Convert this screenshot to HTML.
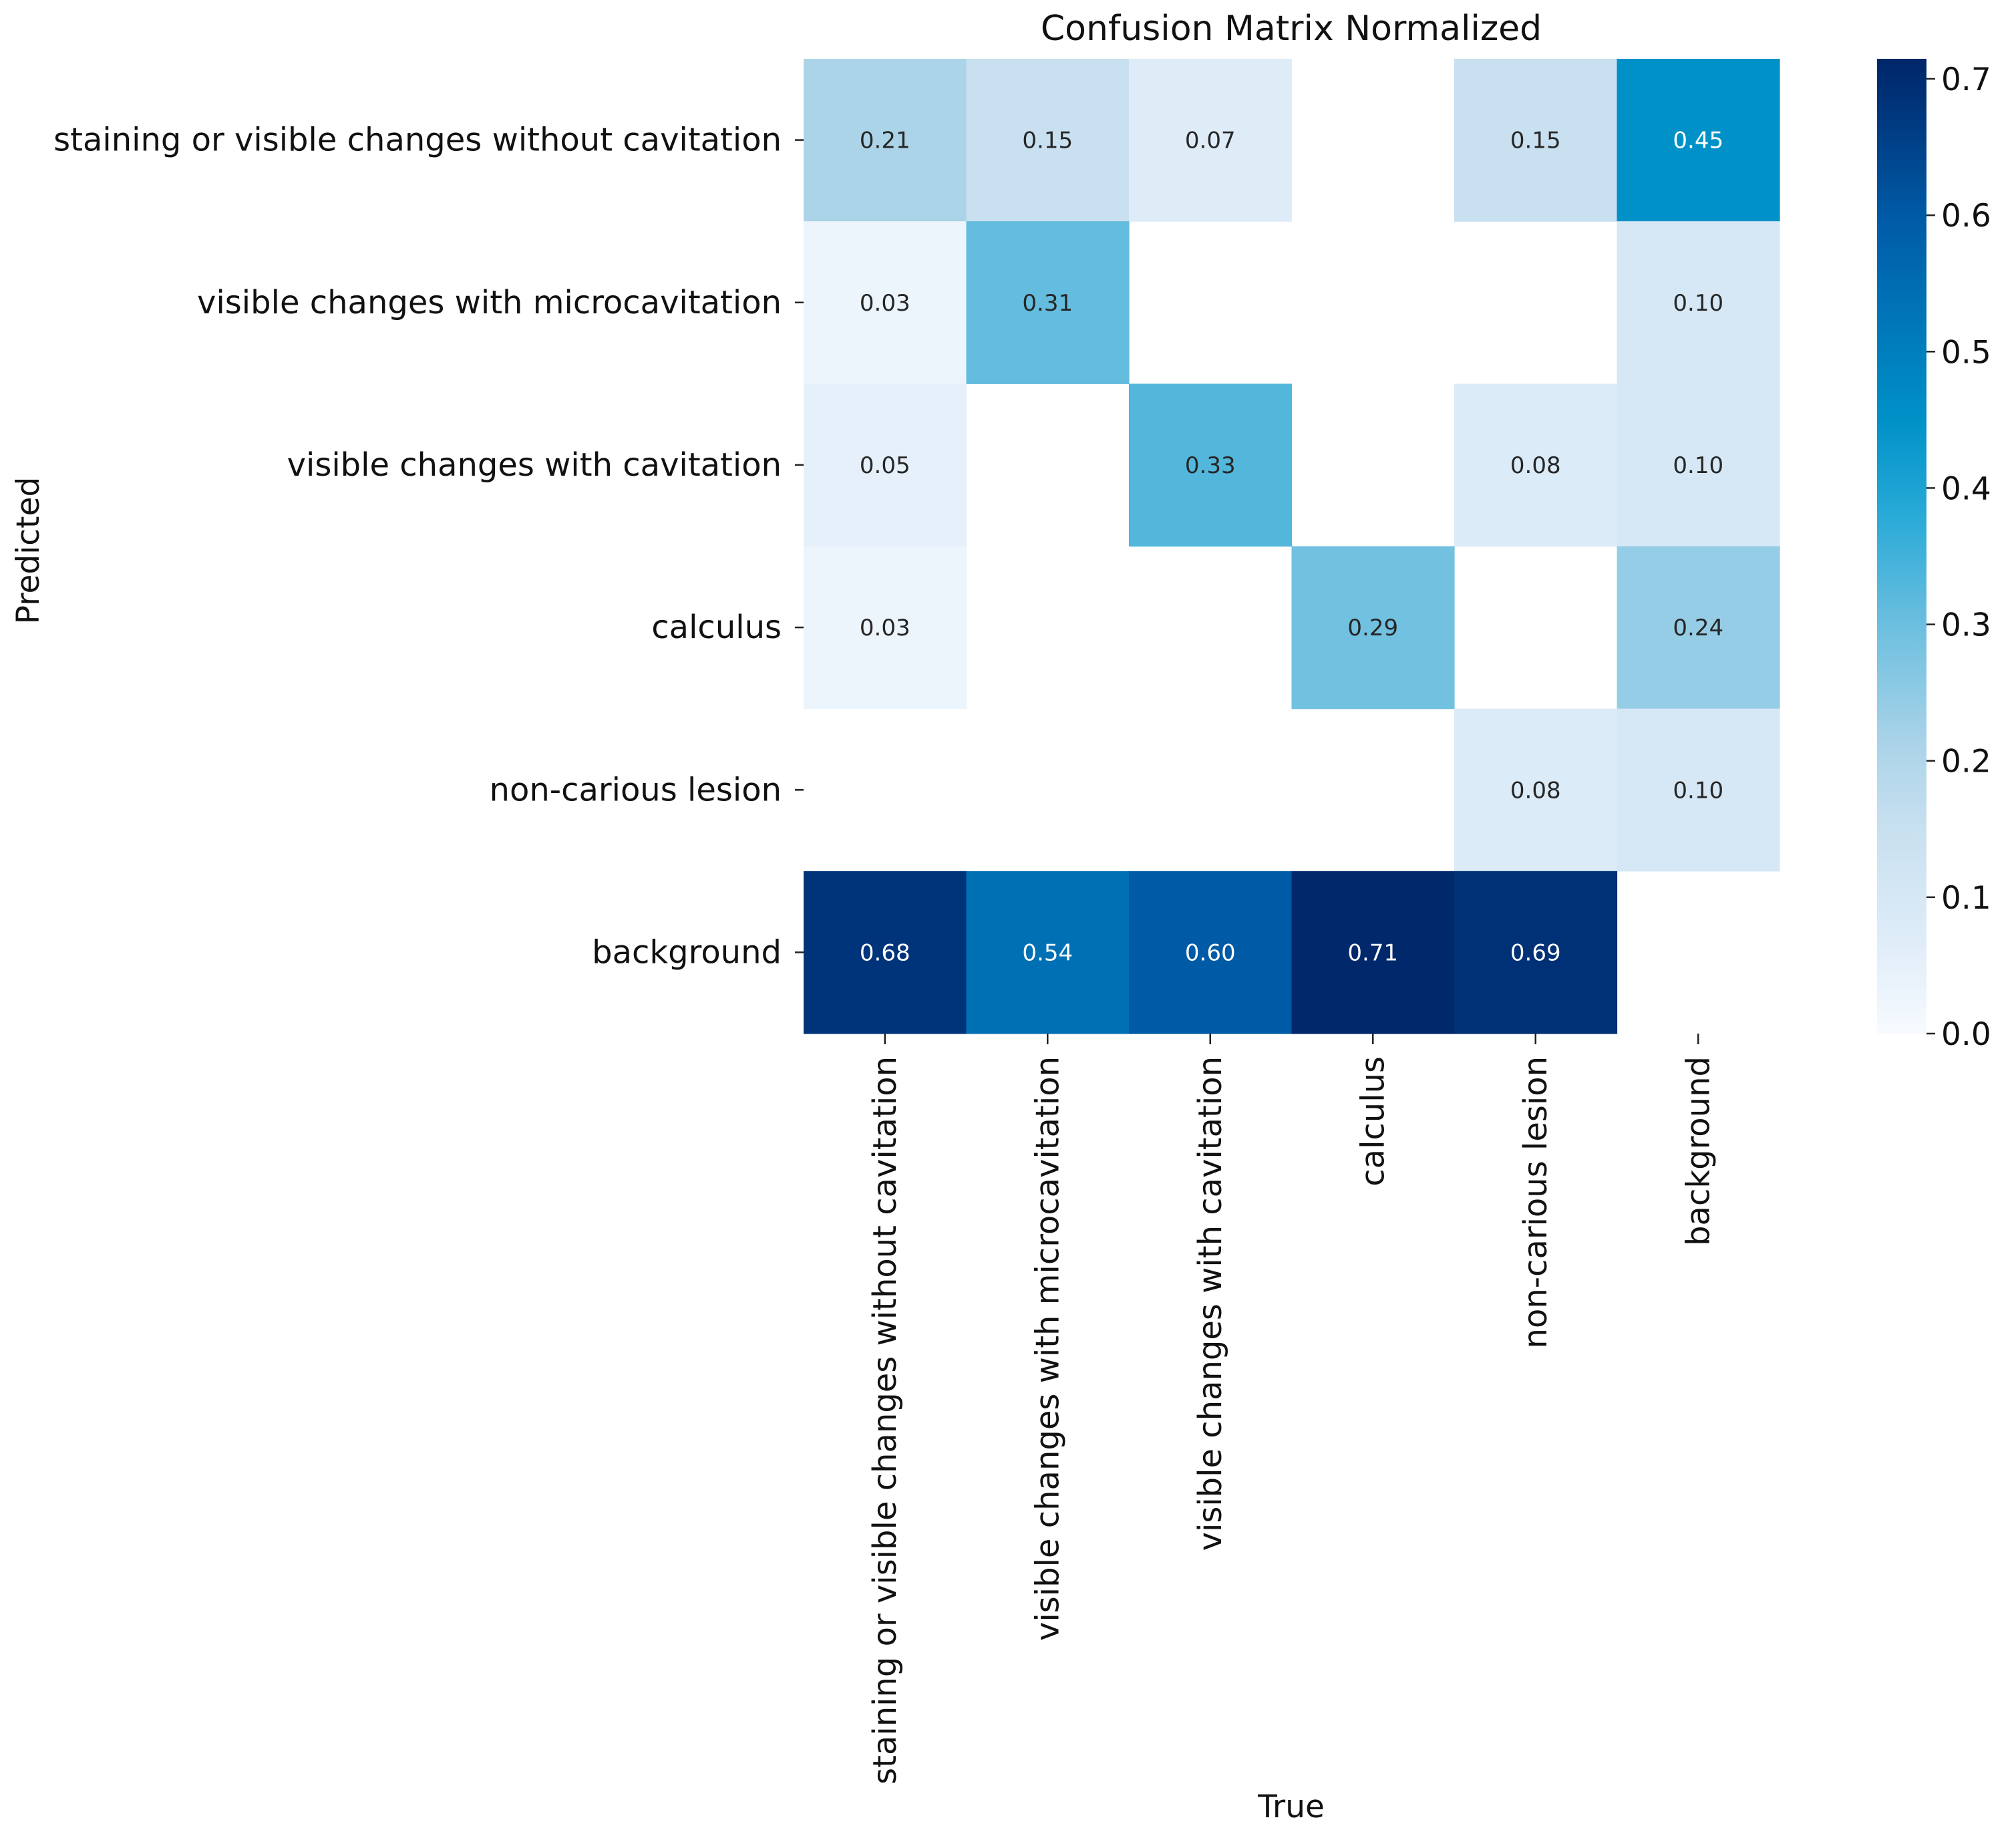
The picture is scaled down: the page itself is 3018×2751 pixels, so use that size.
<!DOCTYPE html>
<html><head><meta charset="utf-8"><style>
html,body{margin:0;padding:0;background:#fff}
svg{display:block;font-family:"DejaVu Sans","Liberation Sans",sans-serif}
</style></head><body>
<svg id="chart" width="3018" height="2751" viewBox="0 0 3018 2751" xmlns="http://www.w3.org/2000/svg">
<text x="1933" y="60" font-size="52" text-anchor="middle" fill="#111">Confusion Matrix Normalized</text>
<text x="1933" y="2720" font-size="47" text-anchor="middle" fill="#111">True</text>
<text x="0" y="0" font-size="47" text-anchor="middle" fill="#111" transform="translate(58,824) rotate(-90)">Predicted</text>
<g id="cells"></g>
<g id="ylabels"></g>
<g id="xlabels"></g>
<defs><linearGradient id="cbgrad" x1="0" y1="1" x2="0" y2="0"></linearGradient></defs>
<rect id="cbar"></rect>
<g id="cbticks"></g>
</svg>
<script>
const categories = ["staining or visible changes without cavitation","visible changes with microcavitation","visible changes with cavitation","calculus","non-carious lesion","background"];
const row0 = [0.21,0.15,0.07,0,0.15,0.45];
const row1 = [0.03,0.31,0,0,0,0.10];
const row2 = [0.05,0,0.33,0,0.08,0.10];
const row3 = [0.03,0,0,0.29,0,0.24];
const row4 = [0,0,0,0,0.08,0.10];
const row5 = [0.68,0.54,0.60,0.71,0.69,0];
const matrix = [row0,row1,row2,row3,row4,row5];
const cbTicks = [0,0.1,0.2,0.3,0.4,0.5,0.6,0.7];
const vmax = 0.7147;

const NS="http://www.w3.org/2000/svg";
const L=1203,R=2664,T=88,B=1547;
const n=categories.length, cw=(R-L)/n, ch=(B-T)/n;
const xPos=i=>L+i*cw, yPos=i=>T+i*ch;
const stops=[[0,[247,251,255]],[0.03,[236,244,252]],[0.07,[222,236,248]],[0.15,[200,224,240]],[0.21,[172,212,233]],[0.31,[100,188,222]],[0.38,[40,170,215]],[0.45,[0,145,200]],[0.54,[0,112,180]],[0.60,[0,90,165]],[0.68,[0,52,122]],[0.7147,[0,38,105]]];
function color(v){
  v=Math.max(0,Math.min(vmax,v));
  for(let k=1;k<stops.length;k++){
    if(v<=stops[k][0]){
      const a=stops[k-1],b=stops[k],t=(v-a[0])/(b[0]-a[0]);
      const c=a[1].map((x,j)=>Math.round(x+(b[1][j]-x)*t));
      return `rgb(${c[0]},${c[1]},${c[2]})`;
    }
  }
  return "rgb(0,38,105)";
}
function mk(tag,attrs,parent){const e=document.createElementNS(NS,tag);for(const k in attrs)e.setAttribute(k,attrs[k]);parent.appendChild(e);return e;}
const cells=document.getElementById('cells');
matrix.forEach((row,r)=>row.forEach((v,c)=>{
  if(v<=0) return;
  const rc=mk('rect',{x:xPos(c),y:yPos(r),width:cw+0.6,height:ch+0.6,fill:color(v)},cells);
  
  
  const t=mk('text',{x:xPos(c)+cw/2,y:yPos(r)+ch/2+12,'font-size':34,'text-anchor':'middle',fill:v>0.4?'#fff':'#262626'},cells);
  t.textContent=v.toFixed(2);
  
  
}));
const yl=document.getElementById('ylabels');
categories.forEach((s,i)=>{
  const cy=yPos(i)+ch/2;
  const tk=mk('line',{x1:L-13,x2:L,y1:cy,y2:cy,stroke:'#222','stroke-width':2.5},yl);
  
  
  const t=mk('text',{x:L-33,y:cy+16,'font-size':48,'text-anchor':'end',fill:'#111'},yl);
  t.textContent=s;
  
  
});
const xl=document.getElementById('xlabels');
categories.forEach((s,i)=>{
  const cx=xPos(i)+cw/2;
  const tk=mk('line',{x1:cx,x2:cx,y1:B,y2:B+16,stroke:'#222','stroke-width':2.5},xl);
  
  
  const t=mk('text',{x:0,y:0,'font-size':48,'text-anchor':'end',fill:'#111',transform:`translate(${cx+16},${B+34}) rotate(-90)`},xl);
  t.textContent=s;
  
  
});
const g=document.getElementById('cbgrad');
stops.forEach(s=>{mk('stop',{offset:(s[0]/vmax),'stop-color':color(s[0])},g);});
const CL=2810,CR=2884;
const cb=document.getElementById('cbar');
cb.setAttribute('x',CL);cb.setAttribute('y',T);cb.setAttribute('width',CR-CL);cb.setAttribute('height',B-T);cb.setAttribute('fill','url(#cbgrad)');
const cbY=v=>B-(v/vmax)*(B-T);
const cbt=document.getElementById('cbticks');
cbTicks.forEach(v=>{
  const y=cbY(v);
  const tk=mk('line',{x1:CR,x2:CR+13,y1:y,y2:y,stroke:'#222','stroke-width':2.5},cbt);
  
  
  const t=mk('text',{x:CR+22,y:y+17,'font-size':47,fill:'#111'},cbt);
  t.textContent=v.toFixed(1);
  
  
});
</script>
</body></html>
